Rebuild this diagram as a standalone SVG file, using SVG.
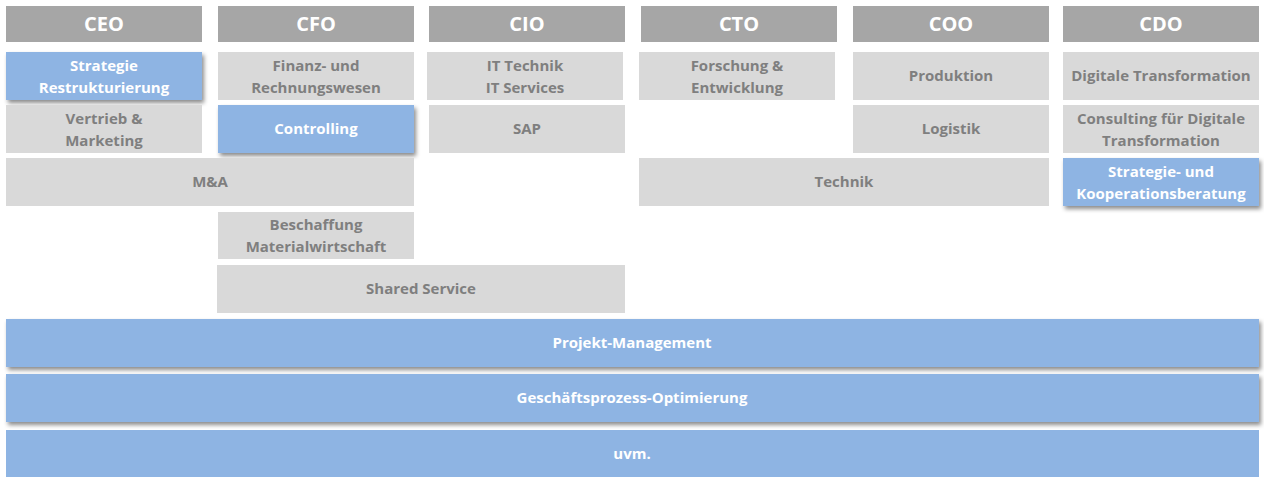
<svg xmlns="http://www.w3.org/2000/svg" width="1264" height="477" viewBox="0 0 1264 477">
<defs>
<filter id="sh" x="-5%" y="-20%" width="115%" height="160%">
<feDropShadow dx="2" dy="3" stdDeviation="2" flood-color="#000" flood-opacity="0.45"/>
</filter>
<style>
.hd{fill:#A6A6A6}
.nd{fill:#D9D9D9}
.bl{fill:#8EB4E3;filter:url(#sh)}
.bl2{fill:#8EB4E3}
text{font-family:"Open Sans","Liberation Sans",sans-serif;font-weight:bold;text-anchor:middle}
.ht{fill:#FFFFFF;font-size:20px}
.gt{fill:#7F7F7F;font-size:15px}
.wt{fill:#FFFFFF;font-size:15px}
</style>
</defs>
<rect width="1264" height="477" fill="#FFFFFF"/>
<g id="headers">
<g id="ceo"><rect class="hd" x="6" y="6" width="196" height="36"/><text class="ht" x="104" y="31">CEO</text></g>
<g id="cfo"><rect class="hd" x="218" y="6" width="196" height="36"/><text class="ht" x="316" y="31">CFO</text></g>
<g id="cio"><rect class="hd" x="429" y="6" width="196" height="36"/><text class="ht" x="527" y="31">CIO</text></g>
<g id="cto"><rect class="hd" x="641" y="6" width="196" height="36"/><text class="ht" x="739" y="31">CTO</text></g>
<g id="coo"><rect class="hd" x="853" y="6" width="196" height="36"/><text class="ht" x="951" y="31">COO</text></g>
<g id="cdo"><rect class="hd" x="1063" y="6" width="196" height="36"/><text class="ht" x="1161" y="31">CDO</text></g>
</g>
<g id="n-strategie"><rect class="bl" x="6" y="52" width="196" height="48"/><text class="wt" x="104" y="71">Strategie</text><text class="wt" x="104" y="93">Restrukturierung</text></g>
<g id="n-finanz"><rect class="nd" x="218" y="52" width="196" height="48"/><text class="gt" x="316" y="71">Finanz- und</text><text class="gt" x="316" y="93">Rechnungswesen</text></g>
<g id="n-it"><rect class="nd" x="427" y="52" width="196" height="48"/><text class="gt" x="525" y="71">IT Technik</text><text class="gt" x="525" y="93">IT Services</text></g>
<g id="n-forschung"><rect class="nd" x="639" y="52" width="196" height="48"/><text class="gt" x="737" y="71">Forschung &amp;</text><text class="gt" x="737" y="93">Entwicklung</text></g>
<g id="n-produktion"><rect class="nd" x="853" y="52" width="196" height="48"/><text class="gt" x="951" y="81">Produktion</text></g>
<g id="n-digitale"><rect class="nd" x="1063" y="52" width="196" height="48"/><text class="gt" x="1161" y="81">Digitale Transformation</text></g>
<g id="n-vertrieb"><rect class="nd" x="6" y="105" width="196" height="48"/><text class="gt" x="104" y="124">Vertrieb &amp;</text><text class="gt" x="104" y="146">Marketing</text></g>
<g id="n-controlling"><rect class="bl" x="218" y="105" width="196" height="48"/><text class="wt" x="316" y="134">Controlling</text></g>
<g id="n-sap"><rect class="nd" x="429" y="105" width="196" height="48"/><text class="gt" x="527" y="134">SAP</text></g>
<g id="n-logistik"><rect class="nd" x="853" y="105" width="196" height="48"/><text class="gt" x="951" y="134">Logistik</text></g>
<g id="n-consulting"><rect class="nd" x="1063" y="105" width="196" height="48"/><text class="gt" x="1161" y="124">Consulting für Digitale</text><text class="gt" x="1161" y="146">Transformation</text></g>
<g id="n-ma"><rect class="nd" x="6" y="158" width="408" height="48"/><text class="gt" x="210" y="187">M&amp;A</text></g>
<g id="n-technik"><rect class="nd" x="639" y="158" width="410" height="48"/><text class="gt" x="844" y="187">Technik</text></g>
<g id="n-kooperation"><rect class="bl" x="1063" y="158" width="196" height="48"/><text class="wt" x="1161" y="177">Strategie- und</text><text class="wt" x="1161" y="199">Kooperationsberatung</text></g>
<g id="n-beschaffung"><rect class="nd" x="218" y="212" width="196" height="47"/><text class="gt" x="316" y="230">Beschaffung</text><text class="gt" x="316" y="252">Materialwirtschaft</text></g>
<g id="n-shared"><rect class="nd" x="217" y="265" width="408" height="48"/><text class="gt" x="421" y="294">Shared Service</text></g>
<g id="n-projekt"><rect class="bl" x="6" y="319" width="1253" height="48"/><text class="wt" x="632" y="348">Projekt-Management</text></g>
<g id="n-gpo"><rect class="bl" x="6" y="374" width="1253" height="48"/><text class="wt" x="632" y="403">Geschäftsprozess-Optimierung</text></g>
<g id="n-uvm"><rect class="bl2" x="6" y="430" width="1253" height="47"/><text class="wt" x="632" y="459">uvm.</text></g>
<g id="connectors"></g>
</svg>
